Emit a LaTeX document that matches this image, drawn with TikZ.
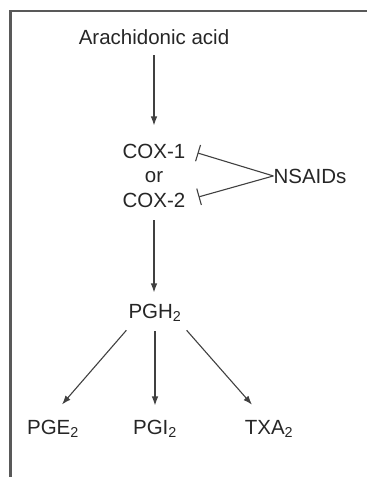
\documentclass[tikz,border=0pt]{standalone}
\usepackage{fontspec}
\setmainfont{Liberation Sans}
\usetikzlibrary{positioning,arrows.meta}

\begin{document}
\begin{tikzpicture}[
    x=1pt, y=1pt,
    txt/.style = {inner sep=0pt, anchor=base, text=black!85, font=\fontsize{20.5}{24}\selectfont},
    flow/.style = {draw=black!75, line width=1.1pt, -{Latex[length=9pt,width=6.5pt]}},
    block/.style = {draw=black!75, line width=1.1pt, -{Bar[width=17pt]}},
    frame/.style = {draw=black!65, line width=2.5pt}
  ]
    \useasboundingbox (0,0) rectangle (367,-477);
    \draw[frame] (10.5,-477) |- (367,-11);   % open frame, only left and top

    \node[txt] (acid) at (154,-44) {Arachidonic acid};
    \node[txt] (cox1) at (154,-158) {COX-1};
    \node[txt] (or) [below=24pt of cox1.base, anchor=base] {or};
    \node[txt] (cox2) [below=25pt of or.base, anchor=base] {COX-2};
    \node[txt] (nsaids) at (310,-183) {NSAIDs};
    \node[txt] (pgh) at (155,-318) {PGH\textsubscript{2}};
    \node[txt] (pgi) [below=116pt of pgh.base, anchor=base] {PGI\textsubscript{2}};
    \node[txt] (pge) [left=102pt of pgi.base, anchor=base] {PGE\textsubscript{2}};
    \node[txt] (txa) [right=114pt of pgi.base, anchor=base] {TXA\textsubscript{2}};

    \draw[flow, shorten <=11pt, shorten >=18pt] (acid) -- (cox1);
    \draw[flow, shorten <=13pt, shorten >=11pt] (cox2.south) -- (cox2.south |- pgh.north);

    % inhibition by NSAIDs
    \draw[block] (nsaids.west) -- ([shift={(12,-2)}]cox1.east);
    \draw[block] (nsaids.west) -- ([shift={(13,3)}]cox2.east);

    \draw[flow] ([shift={(-2,-9)}]pgh.south west) -- ([shift={(9,15)}]pge.north);
    \draw[flow, shorten <=10pt, shorten >=14pt] (pgi.north |- pgh.south) -- (pgi.north);
    \draw[flow] ([shift={(5,-9)}]pgh.south east) -- ([shift={(-17,15)}]txa.north);

  \end{tikzpicture}
\end{document}
